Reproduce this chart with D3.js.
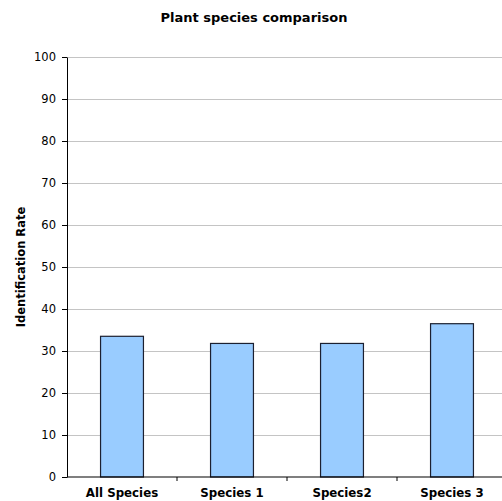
<!DOCTYPE html>
<html>
<head>
<meta charset="utf-8">
<script src="https://cdn.jsdelivr.net/npm/d3@7"></script>
<style>
  html, body { margin: 0; padding: 0; background: #fff; }
  svg { display: block; }
</style>
</head>
<body>
<svg id="chart" width="502" height="501"></svg>
<script>
// Identification rate per plant group
const categories = ["All Species", "Species 1", "Species2", "Species 3"];
const rates = [33.5, 31.8, 31.8, 36.5];
const yTicks = [0, 10, 20, 30, 40, 50, 60, 70, 80, 90, 100];

const svg = d3.select("#chart");
const plotLeft = 67, plotRight = 507, plotTop = 57, plotBottom = 477;
const font = "Verdana, 'DejaVu Sans', sans-serif";

const x = d3.scaleBand().domain(categories).range([plotLeft, plotRight]).paddingInner(0.61).paddingOuter(0.305);
const xTickScale = d3.scaleBand().domain(categories).range([plotLeft, plotRight]);
const y = d3.scaleLinear().domain([0, 100]).range([plotBottom, plotTop]);

// horizontal gridlines
svg.append("g")
  .selectAll("line")
  .data(yTicks.filter(d => d > 0))
  .join("line")
  .attr("x1", plotLeft).attr("x2", 502)
  .attr("y1", d => y(d)).attr("y2", d => y(d))
  .attr("stroke", "#c4c4c4").attr("stroke-width", 1)
  .attr("shape-rendering", "crispEdges");

// bars
svg.append("g")
  .selectAll("rect")
  .data(categories)
  .join("rect")
  .attr("x", d => x(d))
  .attr("width", x.bandwidth())
  .attr("y", (d, i) => y(rates[i]))
  .attr("height", (d, i) => y(0) - y(rates[i]))
  .attr("fill", "#99ccff")
  .attr("stroke", "#1c2030")
  .attr("stroke-width", 1.2);

// y axis
const yAxis = svg.append("g")
  .attr("transform", `translate(${plotLeft},0)`)
  .call(d3.axisLeft(y).tickValues(yTicks).tickSize(5).tickPadding(6).tickSizeOuter(0));
yAxis.select(".domain").attr("stroke", "#000");
yAxis.selectAll(".tick line").attr("stroke", "#000");
yAxis.selectAll("text").attr("font-family", font).attr("font-size", 11.5).attr("fill", "#000");

// x axis: ticks sit between categories
const xAxis = svg.append("g").attr("transform", `translate(0,${plotBottom})`);
xAxis.append("line")
  .attr("x1", plotLeft).attr("x2", 502).attr("y1", 0).attr("y2", 0)
  .attr("stroke", "#000").attr("stroke-width", 1.2);
xAxis.selectAll("line.sep")
  .data(categories.slice(1))
  .join("line")
  .attr("class", "sep")
  .attr("x1", d => xTickScale(d)).attr("x2", d => xTickScale(d))
  .attr("y1", 0).attr("y2", 4)
  .attr("stroke", "#000");
xAxis.selectAll("text")
  .data(categories)
  .join("text")
  .attr("x", d => x(d) + x.bandwidth() / 2)
  .attr("y", 20)
  .attr("text-anchor", "middle")
  .attr("font-family", font)
  .attr("font-weight", "bold")
  .attr("font-size", 11.8)
  .text(d => d);

// title
svg.append("text")
  .attr("x", 254).attr("y", 22)
  .attr("text-anchor", "middle")
  .attr("font-family", font)
  .attr("font-weight", "bold")
  .attr("font-size", 13)
  .text("Plant species comparison");

// y axis label
svg.append("text")
  .attr("transform", `translate(25,${(plotTop + plotBottom) / 2}) rotate(-90)`)
  .attr("text-anchor", "middle")
  .attr("font-family", font)
  .attr("font-weight", "bold")
  .attr("font-size", 11.5)
  .text("Identification Rate");
</script>
</body>
</html>
